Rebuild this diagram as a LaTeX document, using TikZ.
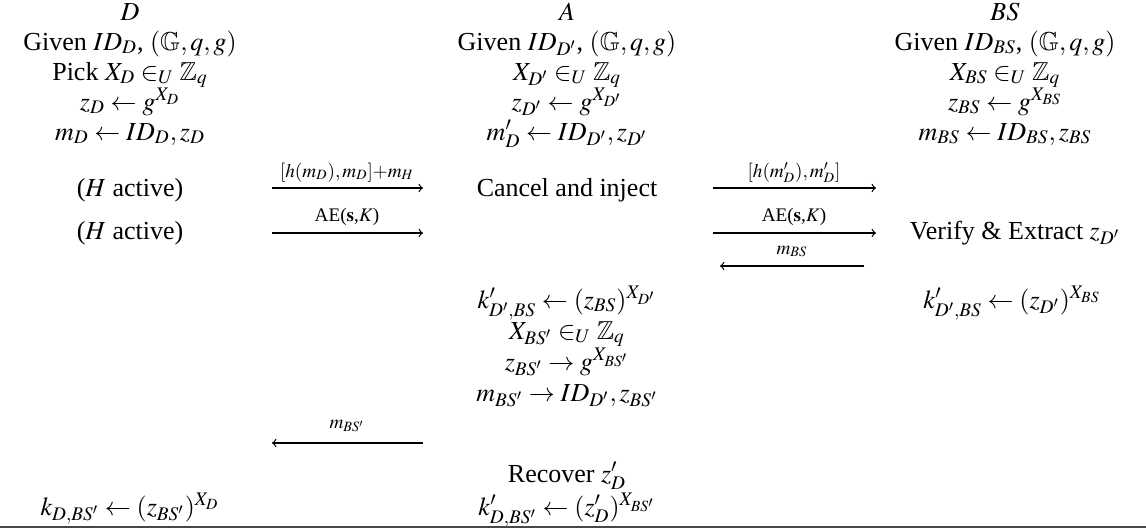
\documentclass[tikz,border=0pt]{standalone}
\usepackage{mathptmx}
\usepackage{amssymb}
\usepackage{fontspec}
\setmainfont{Liberation Serif}
\newcommand\mainsz{\fontsize{13}{15}\selectfont}
\newcommand\lblsz{\fontsize{9.6}{11}\selectfont}
\begin{document}
\begin{tikzpicture}[x=0.5pt,y=-0.5pt,
  txt/.style={anchor=base,inner sep=0pt,font=\mainsz},
  lbl/.style={anchor=base,inner sep=0pt,font=\lblsz},
  msg/.style={line width=0.6pt,-to}]
\useasboundingbox (0,0) rectangle (1146,531);

% device D
\node[txt] (dHead)  at (130,20)  {$D$};
\node[txt] (dGiven) at (130,50)  {Given $ID_D$, $(\mathbb{G},q,g)$};
\node[txt] (dPick)  at (130,80)  {Pick $X_D\in_U\mathbb{Z}_q$};
\node[txt] (dZ)     at (130,110) {$z_D\leftarrow g^{X_D}$};
\node[txt] (dM)     at (130,140) {$m_D\leftarrow ID_D,z_D$};
\node[txt] (dAct1)  at (130,196) {($H$ active)};
\node[txt] (dAct2)  at (130,239) {($H$ active)};
\node[txt] (dKey)   at (130,515) {$k_{D,BS'}\leftarrow(z_{BS'})^{X_D}$};

% adversary A
\node[txt] (aHead)   at (567,20)  {$A$};
\node[txt] (aGiven)  at (567,50)  {Given $ID_{D'}$, $(\mathbb{G},q,g)$};
\node[txt] (aPick)   at (567,80)  {$X_{D'}\in_U\mathbb{Z}_q$};
\node[txt] (aZ)      at (567,110) {$z_{D'}\leftarrow g^{X_{D'}}$};
\node[txt] (aM)      at (567,140) {$m'_D\leftarrow ID_{D'},z_{D'}$};
\node[txt] (aCancel) at (567,196) {Cancel and inject};
\node[txt] (aKey1)   at (567,308) {$k'_{D',BS}\leftarrow(z_{BS})^{X_{D'}}$};
\node[txt] (aPick2)  at (567,339) {$X_{BS'}\in_U\mathbb{Z}_q$};
\node[txt] (aZ2)     at (567,370) {$z_{BS'}\rightarrow g^{X_{BS'}}$};
\node[txt] (aM2)     at (567,401) {$m_{BS'}\rightarrow ID_{D'},z_{BS'}$};
\node[txt] (aRec)    at (567,482) {Recover $z'_D$};
\node[txt] (aKey2)   at (567,515) {$k'_{D,BS'}\leftarrow(z'_D)^{X_{BS'}}$};

% base station BS
\node[txt] (bHead)  at (1005,20)  {$BS$};
\node[txt] (bGiven) at (1005,50)  {Given $ID_{BS}$, $(\mathbb{G},q,g)$};
\node[txt] (bPick)  at (1005,80)  {$X_{BS}\in_U\mathbb{Z}_q$};
\node[txt] (bZ)     at (1005,110) {$z_{BS}\leftarrow g^{X_{BS}}$};
\node[txt] (bM)     at (1005,140) {$m_{BS}\leftarrow ID_{BS},z_{BS}$};
\node[txt] (bVer)   at (1015,239) {Verify \& Extract $z_{D'}$};
\node[txt] (bKey)   at (1012,308) {$k'_{D',BS}\leftarrow(z_{D'})^{X_{BS}}$};

% message arrows
\coordinate (m1s) at (272,188); \coordinate (m1e) at (423,188);
\coordinate (m2s) at (272,233); \coordinate (m2e) at (423,233);
\coordinate (m3s) at (713,188); \coordinate (m3e) at (876,188);
\coordinate (m4s) at (713,233); \coordinate (m4e) at (876,233);
\coordinate (m5s) at (864,266); \coordinate (m5e) at (720,266);
\coordinate (m6s) at (423,443); \coordinate (m6e) at (272,443);

\draw[msg] (m1s) -- (m1e);
\draw[msg] (m2s) -- (m2e);
\draw[msg] (m3s) -- (m3e);
\draw[msg] (m4s) -- (m4e);
\draw[msg] (m5s) -- (m5e);
\draw[msg] (m6s) -- (m6e);

\node[lbl] (l1) at (347,177) {$[h(m_D),m_D]{+}m_H$};
\node[lbl] (l2) at (347,221) {AE($\mathbf{s}$,$K$)};
\node[lbl] (l3) at (794,177) {$[h(m'_D),m'_D]$};
\node[lbl] (l4) at (794,221) {AE($\mathbf{s}$,$K$)};
\node[lbl] (l5) at (792,254) {$m_{BS}$};
\node[lbl] (l6) at (347,428) {$m_{BS'}$};

% closing rule
\coordinate (ruleL) at (0,527);
\coordinate (ruleR) at (1146,527);
\draw[line width=1.1pt,black!72] (ruleL) -- (ruleR);
\end{tikzpicture}
\end{document}
